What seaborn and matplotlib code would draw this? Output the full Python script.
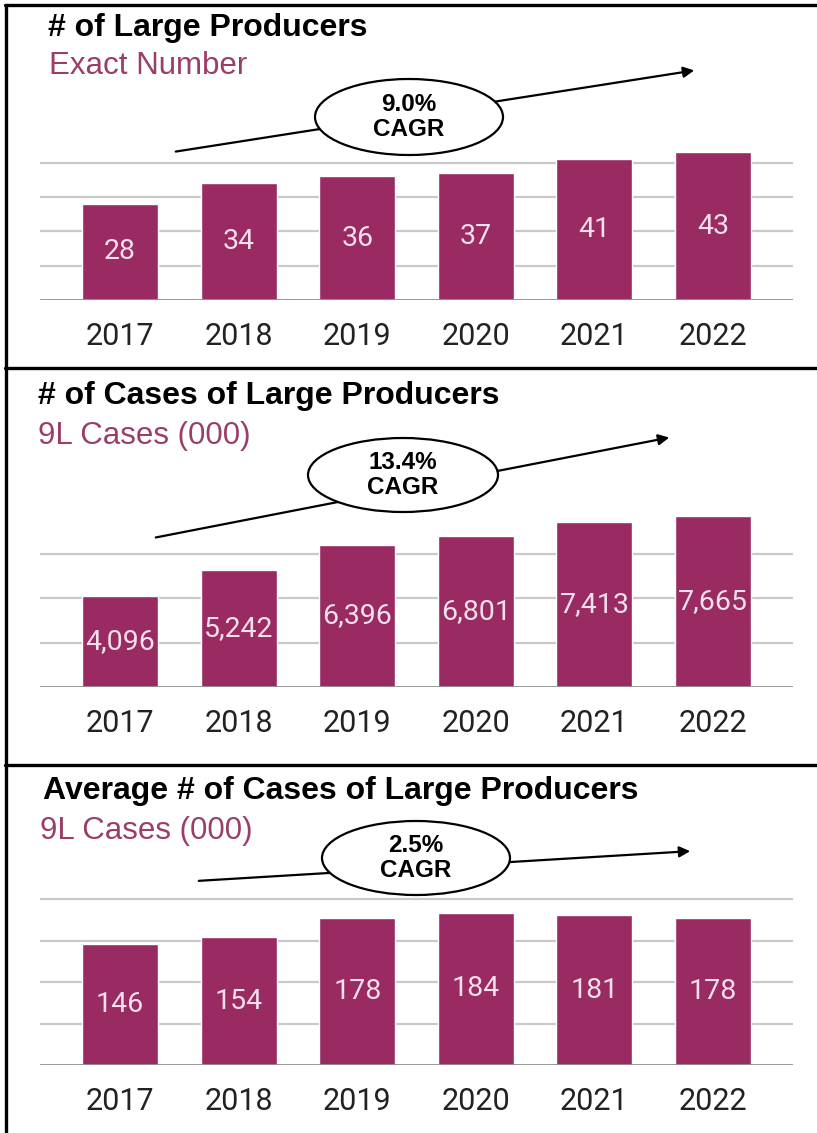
import numpy as np
import pandas as pd
import seaborn as sns
import matplotlib.pyplot as plt
from matplotlib.patches import Ellipse, FancyArrowPatch
from matplotlib.lines import Line2D

# data
years = ['2017', '2018', '2019', '2020', '2021', '2022']
large_producers = [28, 34, 36, 37, 41, 43]
cases_large = [4096, 5242, 6396, 6801, 7413, 7665]
avg_cases_large = [146, 154, 178, 184, 181, 178]
titles = ['# of Large Producers', '# of Cases of Large Producers',
          'Average # of Cases of Large Producers']
subtitles = ['Exact Number', '9L Cases (000)', '9L Cases (000)']
cagr_labels = ['9.0%\nCAGR', '13.4%\nCAGR', '2.5%\nCAGR']

W, H = 817, 1133
BAR = '#992B62'
LABEL = '#F4E0EC'
SUB = '#9B3D69'

sns.set_theme(style='white')
plt.rcParams['font.family'] = ['Liberation Sans', 'DejaVu Sans']

fig = plt.figure(figsize=(W / 100, H / 100), dpi=100)
fig.patch.set_facecolor('white')


def fx(x):
    return x / W


def fy(y):
    return 1 - y / H


# panel layout in pixels (axes top, baseline, text and callout positions)
panels = [
    dict(vals=large_producers, top=142, base=300, ymax=46, step=10,
         fmt=lambda v: f'{v}', tx=48, ty=28, sx=49, sy=66,
         ell=(409, 117, 188, 76), arr=((173, 152), (697, 70))),
    dict(vals=cases_large, top=509, base=687, ymax=8000, step=2000,
         fmt=lambda v: f'{v:,}', tx=38, ty=396, sx=38, sy=436,
         ell=(403, 475, 190, 74), arr=((153, 538), (672, 437))),
    dict(vals=avg_cases_large, top=891, base=1065, ymax=210, step=50,
         fmt=lambda v: f'{v}', tx=43, ty=791, sx=40, sy=831,
         ell=(416, 858, 188, 74), arr=((196, 881), (693, 851))),
]

for i, p in enumerate(panels):
    left, right = 40, 793
    ax = fig.add_axes([fx(left), fy(p['base']), (right - left) / W,
                       (p['base'] - p['top']) / H])
    df = pd.DataFrame({'Year': years, 'Value': p['vals']})
    sns.barplot(data=df, x='Year', y='Value', color=BAR, saturation=1,
                width=0.64, ax=ax, zorder=3)
    ax.bar_label(ax.containers[0], labels=[p['fmt'](v) for v in p['vals']],
                 label_type='center', color=LABEL, fontsize=20.5,
                 family=['Roboto', 'DejaVu Sans'])
    ax.set_xlim(-0.675, 5.675)
    ax.set_ylim(0, p['ymax'])
    ticks = np.arange(0, p['ymax'] + 1, p['step'])
    ticks = ticks[ticks <= p['ymax'] - 5e-3 * p['ymax']]
    for t in ticks[1:]:
        ax.axhline(t, color='#C9C9C9', lw=1.6, zorder=1)
    ax.axhline(0, color='#8F8F8F', lw=2, zorder=4)
    ax.set_yticks([])
    ax.set_xlabel('')
    ax.set_ylabel('')
    ax.tick_params(axis='x', length=0, pad=16, labelsize=22,
                   labelcolor='#222222')
    for lab in ax.get_xticklabels():
        lab.set_family(['Roboto', 'DejaVu Sans'])
    for s in ax.spines.values():
        s.set_visible(False)
    ax.patch.set_alpha(0)

    fig.text(fx(p['tx']), fy(p['ty']), titles[i], fontsize=23,
             fontweight='bold', color='black', va='center', ha='left')
    fig.text(fx(p['sx']), fy(p['sy']), subtitles[i], fontsize=22.5,
             color=SUB, va='center', ha='left')

    (x0, y0), (x1, y1) = p['arr']
    arrow = FancyArrowPatch((fx(x0), fy(y0)), (fx(x1), fy(y1)),
                            transform=fig.transFigure, arrowstyle='-|>',
                            mutation_scale=16, lw=1.6, color='black',
                            zorder=5)
    fig.add_artist(arrow)
    cx, cy, ew, eh = p['ell']
    ell = Ellipse((fx(cx), fy(cy)), ew / W, eh / H,
                  transform=fig.transFigure, facecolor='white',
                  edgecolor='black', lw=1.6, zorder=6)
    fig.add_artist(ell)
    fig.text(fx(cx), fy(cy), cagr_labels[i], fontsize=17.5, fontweight='bold',
             color='black', ha='center', va='center', linespacing=1.1,
             zorder=7)

# panel borders
for (xa, ya), (xb, yb) in [((5, 5), (817, 5)), ((6, 5), (6, 1133)),
                           ((5, 368), (817, 368)), ((5, 765), (817, 765))]:
    fig.add_artist(Line2D([fx(xa), fx(xb)], [fy(ya), fy(yb)],
                          transform=fig.transFigure, color='black', lw=2.4))

fig.savefig('out.png', dpi=100)
